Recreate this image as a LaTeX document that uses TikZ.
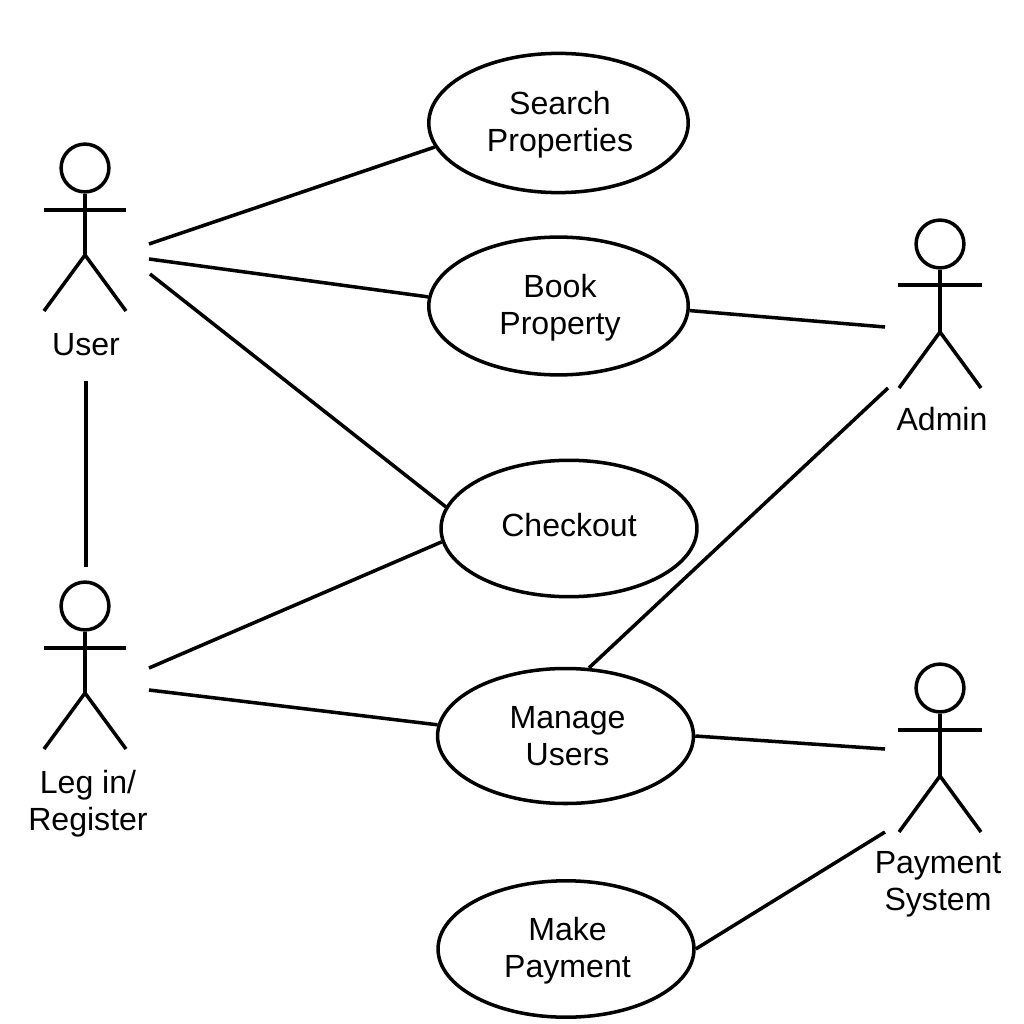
\documentclass[tikz,border=0pt]{standalone}
\usepackage{fontspec}
\setmainfont{Liberation Sans}
\usetikzlibrary{shapes.geometric}
\tikzset{
  usecase/.style={draw,ellipse,line width=2.5pt,inner sep=0pt},
  casetext/.style={align=center,inner sep=0pt,font=\fontsize{22.8}{26.3}\selectfont},
  head/.style={draw,circle,line width=2.5pt,minimum size=34pt,inner sep=0pt},
  limb/.style={line width=2.5pt},
  link/.style={line width=2.5pt},
  actorlabel/.style={align=center,inner sep=0pt,font=\fontsize{22.8}{26.3}\selectfont}
}
\newcommand{\stickman}[6]{% name, x, head y, arm half-width, arm y, hip y ; legs end 56 below hip
  \node[head] (#1) at (#2,#3) {};
  \coordinate (#1hip) at (#2,#6);
  \draw[limb] (#1.south) -- (#1hip);
  \draw[limb] (#2-#4,#5) -- (#2+#4,#5);
  \draw[limb] (#2-41,#6+56) -- (#1hip) -- (#2+41,#6+56);
}
\begin{document}
\begin{tikzpicture}[x=0.025cm,y=-0.025cm]
\useasboundingbox (0,0) rectangle (1024,1024);
\node[usecase,minimum width=184.5pt,minimum height=99pt] (search) at (558.5,123) {};
\node[usecase,minimum width=184.5pt,minimum height=98pt] (book) at (558.5,306) {};
\node[usecase,minimum width=182pt,minimum height=97pt] (checkout) at (569,528.5) {};
\node[usecase,minimum width=182pt,minimum height=96pt] (manage) at (565.5,736) {};
\node[usecase,minimum width=182pt,minimum height=97pt] (pay) at (566,949) {};

\node[casetext] (searcht) at (560,124.5) {Search\\Properties};
\node[casetext] (bookt) at (560,308) {Book\\Property};
\node[casetext] (checkoutt) at (569,525.5) {Checkout};
\node[casetext] (managet) at (567.5,736) {Manage\\Users};
\node[casetext] (payt) at (567.5,950.5) {Make\\Payment};

\stickman{user}{85}{168}{41}{210}{255}
\stickman{login}{85}{606}{41}{648}{693}
\stickman{admin}{940}{244}{42}{285}{332}
\stickman{paysys}{940}{688}{42}{730}{776}

\node[actorlabel] (userlabel) at (86,345) {User};
\node[actorlabel] (loginlabel) at (88,804) {Leg in/\\Register};
\node[actorlabel] (adminlabel) at (942,419) {Admin};
\node[actorlabel] (paylabel) at (938,884) {Payment\\System};

\coordinate (u1) at (149,244);
\coordinate (u2) at (149,259);
\coordinate (u3) at (150,274);
\coordinate (ub) at (86,381);
\coordinate (lt) at (86,567);
\coordinate (l1) at (149,668);
\coordinate (l2) at (149,690);
\coordinate (a1) at (885,327);
\coordinate (a2) at (888,388);
\coordinate (p1) at (885,749);
\coordinate (p2) at (885,832);

\draw[link] (u1) -- (search.191.5);
\draw[link] (u2) -- (book.176);
\draw[link] (u3) -- (checkout.170.5);
\draw[link] (ub) -- (lt);
\draw[link] (l1) -- (checkout.186.8);
\draw[link] (l2) -- (manage.175.5);
\draw[link] (book.-2.6) -- (a1);
\draw[link] (manage.71.8) -- (a2);
\draw[link] (manage.-0.9) -- (p1);
\draw[link] (pay.0.9) -- (p2);
\end{tikzpicture}
\end{document}
